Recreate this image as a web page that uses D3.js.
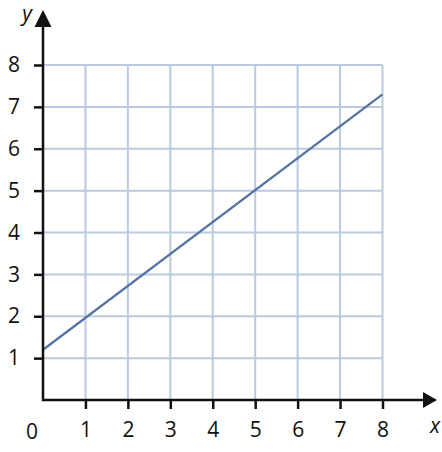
<!DOCTYPE html>
<html>
<head>
<meta charset="utf-8">
<script src="https://cdn.jsdelivr.net/npm/d3@7"></script>
<style>
  body { margin: 0; background: #fff; }
  svg { display: block; }
</style>
</head>
<body>
<svg id="chart" width="442" height="452"></svg>
<script>
// data
const xTicks = [1, 2, 3, 4, 5, 6, 7, 8];
const yTicks = [1, 2, 3, 4, 5, 6, 7, 8];
const lineX = [0, 8];
const lineY = [1.2, 7.3];

const svg = d3.select('#chart');
const font = '"Open Sans", "Noto Sans", sans-serif';

const x = d3.scaleLinear().domain([0, 8]).range([43, 382.5]);
const y = d3.scaleLinear().domain([0, 8]).range([400, 65]);

// grid
const grid = svg.append('g').attr('stroke', '#bccae0').attr('stroke-width', 2);
grid.selectAll('.gx').data(xTicks).enter().append('line')
  .attr('x1', d => x(d)).attr('x2', d => x(d))
  .attr('y1', y(0)).attr('y2', y(8));
grid.selectAll('.gy').data(yTicks).enter().append('line')
  .attr('x1', x(0)).attr('x2', x(8))
  .attr('y1', d => y(d)).attr('y2', d => y(d));

// the line
svg.append('path')
  .datum(lineX.map((d, i) => [d, lineY[i]]))
  .attr('fill', 'none')
  .attr('stroke', '#5473a3')
  .attr('stroke-width', 2.2)
  .attr('d', d3.line().x(d => x(d[0])).y(d => y(d[1])));

// axes
const axisBottom = d3.axisBottom(x).tickValues(xTicks).tickSize(9).tickPadding(13);
const gx = svg.append('g').attr('transform', `translate(0,${y(0)})`).call(axisBottom);
gx.select('.domain').remove();

const axisLeft = d3.axisLeft(y).tickValues(yTicks).tickSize(9).tickPadding(14);
const gy = svg.append('g').attr('transform', `translate(${x(0)},0)`).call(axisLeft);
gy.select('.domain').remove();

svg.selectAll('.tick line').attr('stroke', '#111').attr('stroke-width', 2.5);
svg.selectAll('.tick text')
  .attr('fill', '#111')
  .style('font-family', font)
  .style('font-size', '21px');

// axis lines with arrowheads
svg.append('line')
  .attr('x1', x(0)).attr('x2', 424)
  .attr('y1', y(0)).attr('y2', y(0))
  .attr('stroke', '#111').attr('stroke-width', 2.5);
svg.append('line')
  .attr('x1', x(0)).attr('x2', x(0))
  .attr('y1', y(0) + 1.2).attr('y2', 25)
  .attr('stroke', '#111').attr('stroke-width', 2.5);

svg.append('path')
  .attr('d', `M${437},${y(0)} L${423},${y(0) - 8} L${423},${y(0) + 8} Z`)
  .attr('fill', '#111');
svg.append('path')
  .attr('d', `M${x(0)},10 L${x(0) - 8.5},27 L${x(0) + 8.5},27 Z`)
  .attr('fill', '#111');

// labels
svg.append('text')
  .attr('x', 32).attr('y', 439)
  .attr('text-anchor', 'middle')
  .style('font-family', font).style('font-size', '21px')
  .attr('fill', '#111')
  .text('0');

svg.append('text')
  .attr('x', 435).attr('y', 433)
  .attr('text-anchor', 'middle')
  .style('font-family', font).style('font-size', '21px')
  .style('font-style', 'italic')
  .attr('fill', '#111')
  .text('x');

svg.append('text')
  .attr('x', 27).attr('y', 21)
  .attr('text-anchor', 'middle')
  .style('font-family', font).style('font-size', '21px')
  .style('font-style', 'italic')
  .attr('fill', '#111')
  .text('y');
</script>
</body>
</html>
